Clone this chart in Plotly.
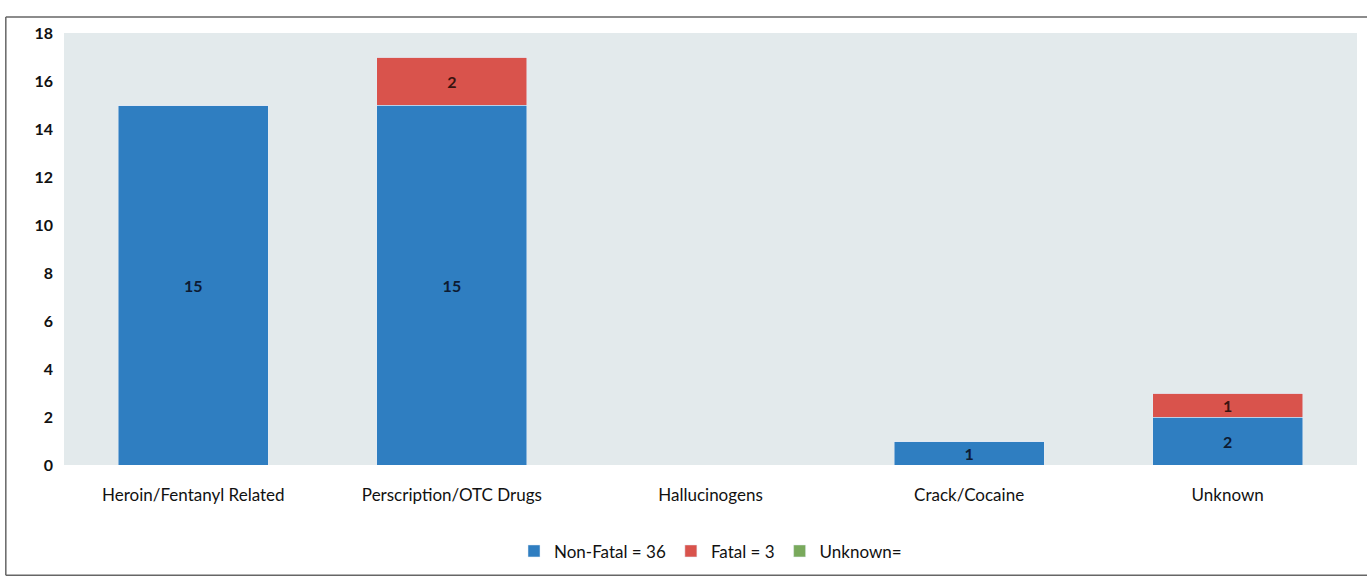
import plotly.graph_objects as go

categories = ["Heroin/Fentanyl Related", "Perscription/OTC Drugs", "Hallucinogens", "Crack/Cocaine", "Unknown"]
non_fatal = [15, 15, 0, 1, 2]
fatal = [0, 2, 0, 0, 1]
unknown = [0, 0, 0, 0, 0]
y_ticks = [0, 2, 4, 6, 8, 10, 12, 14, 16, 18]

def lbl(vals):
    return [str(v) if v else "" for v in vals]

common = dict(textposition="inside", insidetextanchor="middle", textangle=0,
              constraintext="none", hoverinfo="y")

fig = go.Figure()
fig.add_trace(go.Bar(name="Non-Fatal = 36", x=categories, y=non_fatal, marker_color="#2f7ec1",
                     text=lbl(non_fatal), textfont=dict(color="#0d1b33", size=16, weight="bold"),
                     **common))
fig.add_trace(go.Bar(name="Fatal = 3", x=categories, y=fatal, marker_color="#d9534c",
                     text=lbl(fatal), textfont=dict(color="#3a1410", size=16, weight="bold"),
                     **common))
fig.add_trace(go.Bar(name="Unknown=", x=categories, y=unknown, marker_color="#79a95c",
                     text=lbl(unknown), **common))

frame = dict(type="line", xref="paper", yref="paper", line=dict(color="#666666", width=1.5), layer="below")

fig.update_layout(
    barmode="stack",
    bargap=0.42,
    width=1367, height=581,
    margin=dict(l=64, r=10, t=33, b=116),
    paper_bgcolor="white",
    plot_bgcolor="#e3eaec",
    font=dict(family="Lato, Open Sans, sans-serif", color="#111111", size=17),
    showlegend=True,
    legend=dict(orientation="h", x=0.5, xanchor="center", y=-0.2, yanchor="middle",
                font=dict(size=17), traceorder="normal", itemwidth=30),
    xaxis=dict(showgrid=False, zeroline=False, showline=False, ticks="",
               tickfont=dict(size=17), ticklabelstandoff=18),
    yaxis=dict(range=[0, 18], tickvals=y_ticks, showgrid=False, zeroline=False,
               showline=False, ticks="", tickfont=dict(size=16, weight="bold"), ticklabelstandoff=10),
    shapes=[
        dict(frame, x0=-0.045, x1=-0.045, y0=-0.255, y1=1.037),
        dict(frame, x0=-0.045, x1=1.01, y0=1.037, y1=1.037),
        dict(frame, x0=-0.045, x1=1.01, y0=-0.255, y1=-0.255),
    ],
)

fig.write_html("out.html")
